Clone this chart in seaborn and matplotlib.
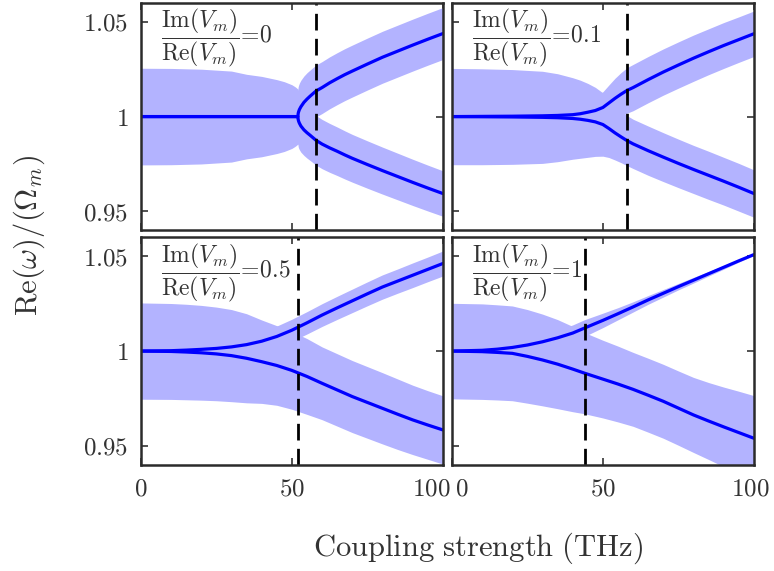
import numpy as np
import pandas as pd
import matplotlib
matplotlib.use("Agg")
import matplotlib.pyplot as plt
from matplotlib.transforms import ScaledTranslation
import seaborn as sns

# values
# panel 1: Im(Vm)/Re(Vm) = 0
x1 = [0, 10, 20, 30, 35, 40, 45, 47.5, 50, 51, 51.5, 52,
      52.1, 52.25, 52.5, 53, 54, 55, 56, 58, 60, 62.5, 65, 67.5, 70, 75, 80, 85, 90, 95, 100]
up1 = [1] * 12 + [1.0017, 1.0026, 1.0037, 1.0052, 1.0075, 1.0092, 1.0107, 1.0135, 1.0153, 1.0178,
                  1.0200, 1.0221, 1.0240, 1.0277, 1.0313, 1.0345, 1.0377, 1.0408, 1.0438]
lo1 = [1] * 12 + [0.9984, 0.9975, 0.9965, 0.995, 0.993, 0.9915, 0.9902, 0.9875, 0.9855, 0.9835,
                  0.9817, 0.9798, 0.978, 0.9747, 0.9715, 0.9684, 0.9653, 0.9623, 0.9594]
wup1 = [0.0015, 0.0016, 0.002, 0.003, 0.0047, 0.0058, 0.0075, 0.0086, 0.0102, 0.0112, 0.0118, 0.0145,
        0.0141, 0.014, 0.014, 0.014, 0.0139, 0.0139, 0.0138, 0.0137, 0.0137, 0.0137, 0.0137, 0.0137,
        0.0137, 0.0137, 0.0137, 0.0137, 0.0137, 0.0137, 0.0137]
wlo1 = [0.0255, 0.0254, 0.025, 0.024, 0.0223, 0.0212, 0.0195, 0.0184, 0.0168, 0.0158, 0.0152, 0.0145,
        0.0143, 0.0142, 0.014, 0.0138, 0.0135, 0.0134, 0.0133, 0.0131, 0.013, 0.0129, 0.0128, 0.0127,
        0.0126, 0.0125, 0.0124, 0.0123, 0.0122, 0.0121, 0.012]

# panel 2: Im(Vm)/Re(Vm) = 0.1
x2 = [0, 10, 20, 30, 35, 40, 42.5, 45, 47.5, 50, 52, 54, 56, 58, 60, 65, 70, 75, 80, 85, 90, 95, 100]
up2 = [1, 1.0001, 1.0002, 1.0004, 1.0006, 1.001, 1.0015, 1.0023, 1.0032, 1.0048, 1.0072, 1.0096,
       1.0118, 1.0138, 1.0153, 1.0195, 1.0235, 1.0272, 1.0308, 1.0342, 1.0375, 1.0406, 1.0437]
lo2 = [1, 0.9999, 0.9998, 0.9996, 0.9994, 0.999, 0.9986, 0.998, 0.9972, 0.9958, 0.9937, 0.9914,
       0.9893, 0.9873, 0.9856, 0.982, 0.9786, 0.9753, 0.9721, 0.969, 0.9659, 0.9627, 0.9594]
wup2 = [0.0016, 0.0017, 0.002, 0.0027, 0.0035, 0.005, 0.0057, 0.0065, 0.0074, 0.0083, 0.0095, 0.0106,
        0.0114, 0.012, 0.0122, 0.0122, 0.0122, 0.0122, 0.0122, 0.0121, 0.0121, 0.012, 0.012]
wlo2 = [0.0254, 0.0253, 0.025, 0.0243, 0.0232, 0.0215, 0.0206, 0.0195, 0.0182, 0.0167, 0.0153, 0.0143,
        0.0136, 0.0132, 0.013, 0.013, 0.0129, 0.0128, 0.0127, 0.0127, 0.0126, 0.0126, 0.0125]

# panel 3: Im(Vm)/Re(Vm) = 0.5
x3 = [0, 10, 15, 20, 25, 30, 35, 40, 45, 50, 55, 60, 65, 70, 75, 80, 85, 90, 95, 100]
up3 = [1, 1.0002, 1.0005, 1.0009, 1.0014, 1.0022, 1.0034, 1.0052, 1.0077, 1.011, 1.0149, 1.019,
       1.0228, 1.0265, 1.0302, 1.0338, 1.0369, 1.040, 1.0431, 1.0462]
lo3 = [1, 0.9998, 0.9995, 0.9991, 0.9985, 0.9976, 0.9962, 0.9944, 0.9924, 0.9898, 0.9866, 0.983,
       0.9795, 0.976, 0.9729, 0.9698, 0.9667, 0.9637, 0.961, 0.9584]
wup3 = [0.002, 0.0022, 0.0025, 0.0028, 0.0032, 0.0036, 0.0042, 0.0048, 0.0055, 0.0058, 0.0059, 0.006,
        0.0061, 0.0062, 0.0063, 0.0064, 0.0064, 0.0065, 0.0065, 0.0066]
wlo3 = [0.0254, 0.0253, 0.0252, 0.025, 0.0247, 0.0243, 0.0235, 0.022, 0.021, 0.0205, 0.020, 0.0192,
        0.0191, 0.019, 0.0189, 0.0188, 0.0186, 0.0183, 0.0181, 0.018]

# panel 4: Im(Vm)/Re(Vm) = 1
x4 = [0, 10, 15, 20, 25, 30, 35, 40, 44, 50, 55, 60, 65, 70, 75, 80, 85, 90, 95, 100]
up4 = [1, 1.0004, 1.001, 1.0019, 1.0032, 1.0049, 1.007, 1.0095, 1.0122, 1.0162, 1.0197, 1.0233,
       1.027, 1.0305, 1.034, 1.0374, 1.0408, 1.0442, 1.0476, 1.0509]
lo4 = [1, 0.9997, 0.9993, 0.9988, 0.9972, 0.9953, 0.9931, 0.9905, 0.9883, 0.9852, 0.9826, 0.9798,
       0.9767, 0.9735, 0.9699, 0.9663, 0.9631, 0.960, 0.957, 0.954]
wup4 = [0.002, 0.0025, 0.0028, 0.003, 0.0034, 0.0038, 0.0041, 0.0043, 0.0044, 0.0038, 0.0032, 0.0027,
        0.0023, 0.002, 0.0017, 0.0015, 0.0012, 0.001, 0.0007, 0.0005]
wlo4 = [0.0252, 0.0252, 0.0251, 0.025, 0.0247, 0.0242, 0.0235, 0.0225, 0.0214, 0.0205, 0.02, 0.0195,
        0.0195, 0.0195, 0.0196, 0.0198, 0.0203, 0.021, 0.0218, 0.0225]

ratios = ["0", "0.1", "0.5", "1"]
ep_lines = [58, 58, 52, 44]

panels = [
    (x1, up1, lo1, wup1, wlo1),
    (x2, up2, lo2, wup2, wlo2),
    (x3, up3, lo3, wup3, wlo3),
    (x4, up4, lo4, wup4, wlo4),
]

sns.set_theme(style="ticks")
plt.rcParams["mathtext.fontset"] = "cm"
plt.rcParams["font.family"] = ["DejaVu Serif"]
txt = "#333333"

fig, axes = plt.subplots(2, 2, figsize=(7.74, 5.71), dpi=100, sharex=True, sharey=True)
fig.subplots_adjust(left=0.182, right=0.974, top=0.995, bottom=0.186, wspace=0.03, hspace=0.031)

band = "#b3b3ff"
for k, ax in enumerate(axes.flat):
    x, up, lo, wup, wlo = panels[k]
    df = pd.DataFrame({"x": x, "up": up, "lo": lo, "wup": wup, "wlo": wlo})
    ax.fill_between(df["x"], df["lo"] - df["wlo"], df["lo"] + df["wlo"], color=band, lw=0)
    ax.fill_between(df["x"], df["up"] - df["wup"], df["up"] + df["wup"], color=band, lw=0)
    sns.lineplot(data=df, x="x", y="up", ax=ax, color="#0000ff", lw=2.3)
    sns.lineplot(data=df, x="x", y="lo", ax=ax, color="#0000ff", lw=2.3)
    ax.axvline(ep_lines[k], color="black", lw=2, dashes=(6, 3))
    ax.text(0.068, 0.982,
            r"$\dfrac{\mathrm{Im}(V_m)}{\mathrm{Re}(V_m)}\!=\!" + ratios[k] + "$",
            transform=ax.transAxes, ha="left", va="top", fontsize=17, color=txt)
    ax.set_xlim(0, 100)
    ax.set_ylim(0.94, 1.06)
    ax.set_xticks([0, 50, 100])
    ax.set_yticks([0.95, 1, 1.05])
    ax.set_xticklabels([r"$0$", r"$50$", r"$100$"])
    ax.set_yticklabels([r"$0.95$", r"$1$", r"$1.05$"])
    ax.tick_params(direction="in", length=5, width=1.2, top=True, right=True,
                   labelsize=18, colors=txt)
    ax.tick_params(axis="y", pad=9)
    ax.tick_params(axis="x", pad=9)
    ax.set_xlabel("")
    ax.set_ylabel("")
    for s in ax.spines.values():
        s.set_linewidth(1.8)
        s.set_color("#2b2b2b")

# nudge the labels that meet between the two bottom panels
lab = axes[1, 0].get_xticklabels()[2]
lab.set_transform(lab.get_transform() + ScaledTranslation(-12 / 100, 0, fig.dpi_scale_trans))
lab = axes[1, 1].get_xticklabels()[0]
lab.set_transform(lab.get_transform() + ScaledTranslation(10 / 100, 0, fig.dpi_scale_trans))
lab = axes[1, 1].get_xticklabels()[2]
lab.set_transform(lab.get_transform() + ScaledTranslation(-4 / 100, 0, fig.dpi_scale_trans))

fig.text(0.618, 0.040, r"$\mathrm{Coupling\ strength\ (THz)}$", ha="center", va="center",
         fontsize=22, color=txt)
fig.text(0.038, 0.587, r"$\mathrm{Re}(\omega)/(\Omega_m)$", ha="center", va="center",
         rotation=90, fontsize=22, color=txt)

fig.savefig("out.png", dpi=100)
